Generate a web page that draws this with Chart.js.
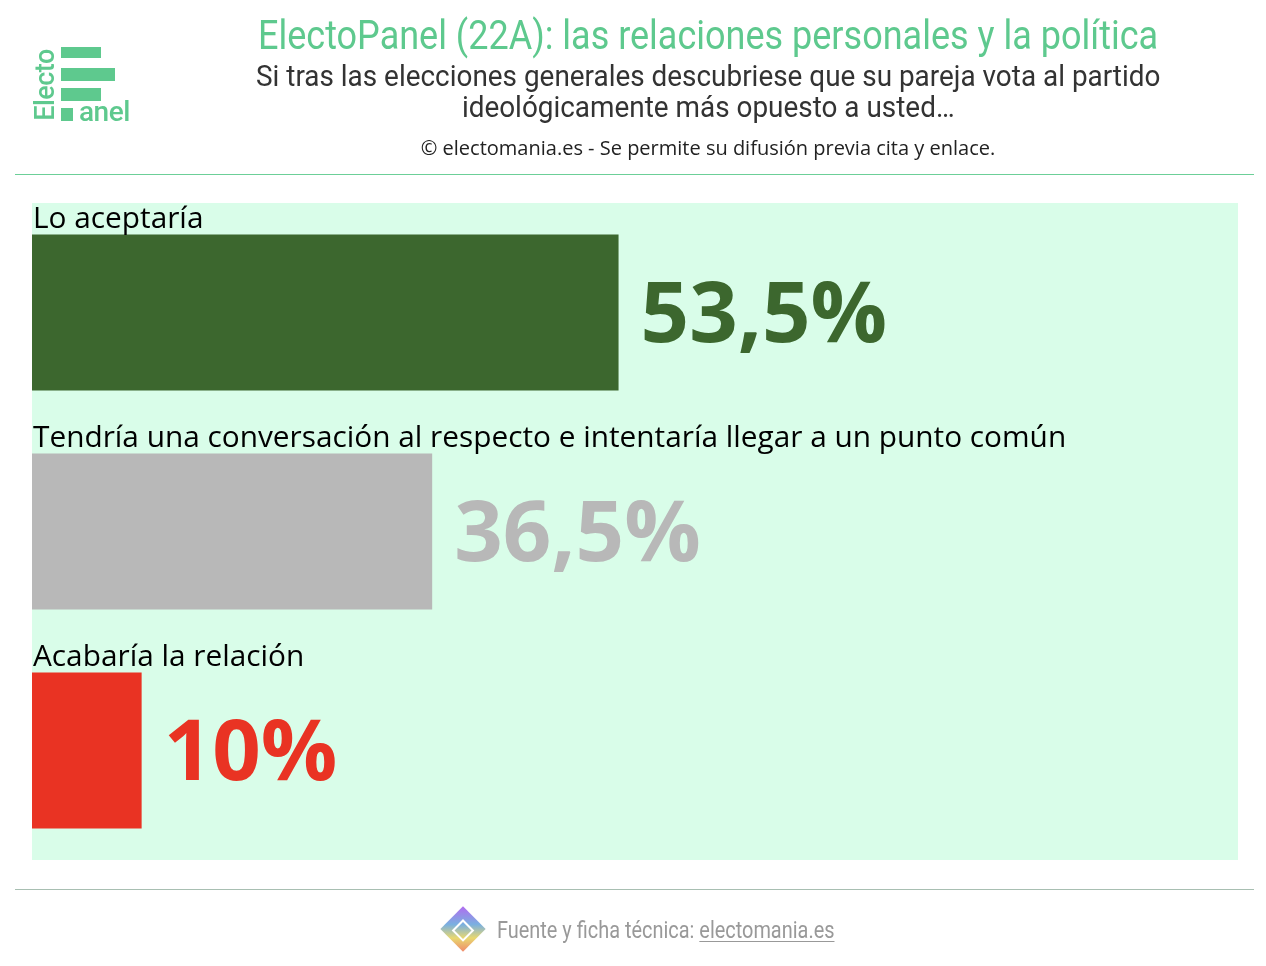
<!DOCTYPE html>
<html>
<head>
<meta charset="utf-8">
<script src="https://cdn.jsdelivr.net/npm/chart.js@4.4.0/dist/chart.umd.min.js"></script>
<style>
  html, body { margin: 0; padding: 0; background: #fff; }
  body { width: 1266px; height: 966px; position: relative; overflow: hidden; font-family: Roboto, sans-serif; }
  #chart { position: absolute; left: 0; top: 0; }
  .center { position: absolute; left: 208px; width: 1000px; text-align: center; white-space: nowrap; }
  .squeeze { display: inline-block; transform-origin: center; }
  #title { top: 12px; font-size: 40px; color: #5ec98e; line-height: 48px; }
  #title .squeeze { transform: scaleX(0.90); }
  #subtitle { top: 60px; font-size: 30px; color: #333; line-height: 31px; }
  #subtitle .squeeze { transform: scaleX(0.93); }
  #credit { top: 134px; font-size: 20px; color: #222; font-family: "Open Sans", sans-serif; letter-spacing: 0; }
  .rule { position: absolute; left: 15px; width: 1239px; height: 1px; }
  .logo { position: absolute; background: #5ec98e; }
  #electo { position: absolute; left: 7px; top: 72px; width: 76px; height: 26px; transform: rotate(-90deg); transform-origin: center;
            color: #5ec98e; font-size: 27px; font-weight: 500; line-height: 26px; text-align: center; letter-spacing: -0.5px; }
  #anel { position: absolute; left: 79px; top: 95px; color: #5ec98e; font-size: 28px; font-weight: 500; letter-spacing: -0.5px; }
  #foot { position: absolute; left: 497px; top: 916px; font-size: 24px; color: #999; white-space: nowrap;
          transform: scaleX(0.83); transform-origin: left center; }
  #foot u { text-decoration-thickness: 1px; text-underline-offset: 3px; }
  #icon { position: absolute; left: 447px; top: 913px; width: 32px; height: 32px; transform: rotate(45deg);
          background: linear-gradient(135deg, #b06cf0, #7ab0e0 40%, #e8d870 70%, #f08a6a); }
  #icon div { position: absolute; left: 9px; top: 9px; width: 12px; height: 12px; border: 2px solid #fff; }
</style>
</head>
<body>
<canvas id="chart" width="1266" height="966"></canvas>

<div id="electo">Electo</div>
<div class="logo" style="left:61px;top:47px;width:40px;height:11px"></div>
<div class="logo" style="left:61px;top:68px;width:54px;height:13px"></div>
<div class="logo" style="left:61px;top:88px;width:40px;height:13px"></div>
<div class="logo" style="left:61px;top:108px;width:12px;height:13px"></div>
<div id="anel">anel</div>

<div id="title" class="center"><span class="squeeze">ElectoPanel (22A): las relaciones personales y la política</span></div>
<div id="subtitle" class="center"><span class="squeeze">Si tras las elecciones generales descubriese que su pareja vota al partido<br>ideológicamente más opuesto a usted…</span></div>
<div id="credit" class="center">© electomania.es - Se permite su difusión previa cita y enlace.</div>
<div class="rule" style="top:174px;background:#6ccf98"></div>
<div class="rule" style="top:889px;background:#a8bfb2"></div>

<div id="icon"><div></div></div>
<div id="foot">Fuente y ficha técnica: <u>electomania.es</u></div>

<script>
var categorias = ['Lo aceptaría', 'Tendría una conversación al respecto e intentaría llegar a un punto común', 'Acabaría la relación'];
var valores = [53.5, 36.5, 10];
var etiquetas = ['53,5%', '36,5%', '10%'];
var colores = ['#3c672e', '#b8b8b8', '#e93323'];

// fondo verde claro del area del grafico
var fondo = {
  id: 'fondo',
  beforeDraw: function (chart) {
    var a = chart.chartArea, ctx = chart.ctx;
    ctx.save();
    ctx.fillStyle = '#d9fde9';
    ctx.fillRect(a.left, a.top, a.right - a.left, a.bottom - a.top);
    ctx.restore();
  }
};

// nombre encima de cada barra y porcentaje a su derecha
var textos = {
  id: 'textos',
  afterDatasetsDraw: function (chart) {
    var ctx = chart.ctx;
    var meta = chart.getDatasetMeta(0);
    ctx.save();
    meta.data.forEach(function (bar, i) {
      var top = bar.y - bar.height / 2;
      ctx.font = '29.8px "Open Sans", sans-serif';
      ctx.fillStyle = '#000';
      ctx.textAlign = 'left';
      ctx.textBaseline = 'alphabetic';
      ctx.fillText(categorias[i], chart.chartArea.left + 1, top - 7);
      ctx.font = 'bold 85px "Open Sans", sans-serif';
      ctx.fillStyle = colores[i];
      ctx.textBaseline = 'middle';
      ctx.fillText(etiquetas[i], bar.x + 22, bar.y + 5);
    });
    ctx.restore();
  }
};

var idhtml = document.getElementById('chart').getContext('2d');
var g_barras = new Chart(idhtml, {
  type: 'bar',
  data: {
    labels: categorias,
    datasets: [{
      data: valores,
      backgroundColor: colores,
      borderWidth: 0,
      categoryPercentage: 1,
      barPercentage: 0.712
    }]
  },
  options: {
    indexAxis: 'y',
    responsive: false,
    animation: false,
    layout: { padding: { left: 32, right: 28, top: 203, bottom: 106 } },
    scales: {
      x: { display: false, min: 0, max: 110 },
      y: { display: false }
    },
    plugins: {
      legend: { display: false },
      tooltip: { enabled: false }
    }
  },
  plugins: [fondo, textos]
});
</script>
</body>
</html>
